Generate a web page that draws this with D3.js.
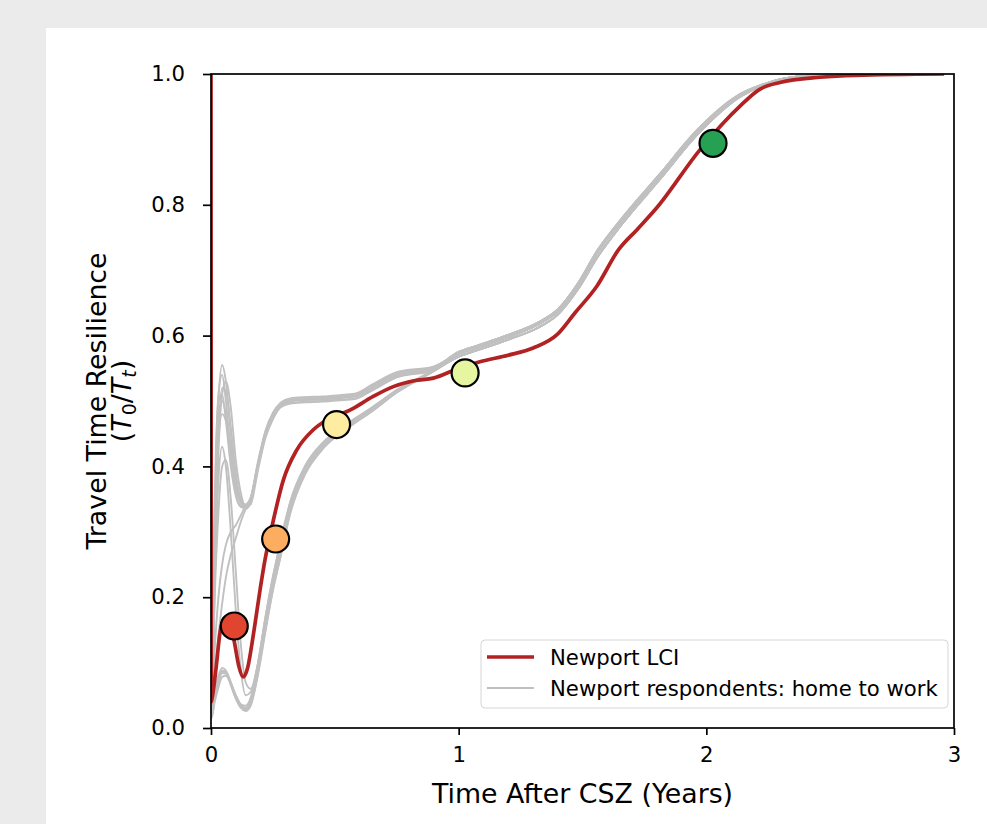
<!DOCTYPE html>
<html><head><meta charset="utf-8">
<script src="https://cdn.jsdelivr.net/npm/d3@7"></script>
<style>
body{margin:0;background:#ebebeb;}
svg text{font-family:"DejaVu Sans",sans-serif;fill:#000;}
</style>
</head><body>
<svg id="c" width="987" height="824"></svg>
<script>
// ---------------- data ----------------
const xTicks = [0, 1, 2, 3];
const yTicks = [0.0, 0.2, 0.4, 0.6, 0.8, 1.0];
const xTickLabels = ["0", "1", "2", "3"];
const yTickLabels = ["0.0", "0.2", "0.4", "0.6", "0.8", "1.0"];

// Newport LCI
const redX = [0, 0.001, 0.003, 0.02, 0.036, 0.055, 0.075, 0.095, 0.112, 0.13, 0.148, 0.165, 0.178, 0.198, 0.218, 0.252, 0.292, 0.346, 0.413, 0.467, 0.561, 0.655, 0.736, 0.82, 0.898, 1.0, 1.086, 1.2, 1.301, 1.396, 1.47, 1.557, 1.645, 1.72, 1.799, 1.974, 2.136, 2.217, 2.297, 2.459, 2.6, 2.96];
const redY = [1.0, 0.04, 0.043, 0.09, 0.145, 0.168, 0.165, 0.13, 0.095, 0.078, 0.092, 0.128, 0.16, 0.211, 0.257, 0.318, 0.379, 0.425, 0.456, 0.471, 0.486, 0.507, 0.522, 0.531, 0.535, 0.55, 0.56, 0.57, 0.581, 0.601, 0.635, 0.675, 0.731, 0.762, 0.795, 0.884, 0.951, 0.977, 0.987, 0.995, 0.998, 1.0];

// respondents: early part (shared x grid) + late part (shared x grid)
const grayEarlyX = [0, 0.003, 0.015, 0.03, 0.045, 0.06, 0.08, 0.1, 0.12, 0.14, 0.16, 0.19, 0.22, 0.25, 0.28, 0.32, 0.38, 0.45, 0.52, 0.58, 0.65, 0.75, 0.9];
const grayTailX = [1.0, 1.07, 1.2, 1.32, 1.4, 1.48, 1.56, 1.65, 1.81, 1.97, 2.14, 2.22, 2.3, 2.45, 2.96];

const grayU1 = [1, 0.05, 0.30, 0.50, 0.555, 0.53, 0.45, 0.38, 0.345, 0.335, 0.345, 0.40, 0.45, 0.478, 0.494, 0.500, 0.502, 0.503, 0.505, 0.507, 0.520, 0.540, 0.550];
const grayU2 = [1, 0.05, 0.32, 0.51, 0.54, 0.50, 0.42, 0.36, 0.34, 0.338, 0.35, 0.405, 0.452, 0.48, 0.496, 0.503, 0.505, 0.506, 0.508, 0.510, 0.524, 0.543, 0.552];
const grayU3 = [1, 0.04, 0.25, 0.45, 0.52, 0.515, 0.46, 0.39, 0.35, 0.34, 0.348, 0.40, 0.446, 0.474, 0.491, 0.497, 0.499, 0.500, 0.502, 0.504, 0.517, 0.537, 0.548];
const grayU4 = [1, 0.05, 0.28, 0.47, 0.50, 0.48, 0.42, 0.37, 0.345, 0.34, 0.352, 0.408, 0.455, 0.482, 0.497, 0.504, 0.506, 0.507, 0.509, 0.511, 0.525, 0.544, 0.553];
const grayU5 = [1, 0.04, 0.22, 0.42, 0.51, 0.53, 0.49, 0.41, 0.36, 0.338, 0.342, 0.395, 0.444, 0.472, 0.490, 0.496, 0.498, 0.499, 0.501, 0.503, 0.516, 0.536, 0.547];
const grayU6 = [1, 0.05, 0.27, 0.44, 0.48, 0.47, 0.43, 0.38, 0.35, 0.342, 0.35, 0.402, 0.45, 0.478, 0.494, 0.500, 0.502, 0.503, 0.505, 0.507, 0.520, 0.540, 0.550];
const grayU7 = [1, 0.06, 0.35, 0.50, 0.51, 0.47, 0.40, 0.355, 0.338, 0.336, 0.346, 0.40, 0.449, 0.477, 0.493, 0.500, 0.502, 0.503, 0.505, 0.507, 0.520, 0.540, 0.550];
const grayS1 = [1, 0.02, 0.08, 0.14, 0.19, 0.23, 0.265, 0.29, 0.315, 0.335, 0.35, 0.40, 0.448, 0.476, 0.493, 0.500, 0.502, 0.503, 0.505, 0.507, 0.520, 0.540, 0.550];
const grayS2 = [1, 0.03, 0.12, 0.20, 0.25, 0.28, 0.30, 0.31, 0.325, 0.34, 0.352, 0.405, 0.452, 0.48, 0.495, 0.501, 0.503, 0.504, 0.506, 0.508, 0.522, 0.541, 0.551];
const grayI1 = [1, 0.04, 0.22, 0.38, 0.43, 0.40, 0.30, 0.18, 0.09, 0.05, 0.055, 0.10, 0.17, 0.23, 0.285, 0.345, 0.398, 0.433, 0.458, 0.472, 0.490, 0.516, 0.546];
const grayI2 = [1, 0.04, 0.20, 0.33, 0.40, 0.41, 0.35, 0.24, 0.13, 0.07, 0.06, 0.098, 0.166, 0.227, 0.276, 0.342, 0.398, 0.433, 0.456, 0.471, 0.488, 0.515, 0.546];
const grayL1 = [1, 0.02, 0.05, 0.075, 0.088, 0.085, 0.066, 0.046, 0.034, 0.031, 0.042, 0.095, 0.163, 0.224, 0.272, 0.34, 0.397, 0.433, 0.455, 0.47, 0.487, 0.515, 0.547];
const grayL2 = [1, 0.015, 0.045, 0.07, 0.084, 0.083, 0.066, 0.045, 0.031, 0.026, 0.034, 0.082, 0.148, 0.21, 0.26, 0.328, 0.388, 0.426, 0.45, 0.466, 0.484, 0.513, 0.546];
const grayL3 = [1, 0.025, 0.055, 0.08, 0.092, 0.088, 0.068, 0.048, 0.036, 0.034, 0.046, 0.10, 0.17, 0.232, 0.28, 0.346, 0.401, 0.436, 0.458, 0.473, 0.49, 0.517, 0.548];
const grayL4 = [1, 0.02, 0.048, 0.072, 0.086, 0.086, 0.07, 0.05, 0.036, 0.03, 0.038, 0.088, 0.155, 0.217, 0.266, 0.334, 0.392, 0.43, 0.452, 0.468, 0.486, 0.514, 0.546];
const grayL5 = [1, 0.018, 0.04, 0.062, 0.078, 0.08, 0.068, 0.05, 0.035, 0.028, 0.036, 0.085, 0.15, 0.212, 0.262, 0.33, 0.39, 0.428, 0.451, 0.467, 0.485, 0.513, 0.546];

const grayT1 = [0.572, 0.581, 0.598, 0.617, 0.637, 0.676, 0.727, 0.772, 0.843, 0.914, 0.968, 0.982, 0.992, 0.998, 1.0];
const grayT2 = [0.568, 0.577, 0.594, 0.612, 0.632, 0.670, 0.720, 0.766, 0.838, 0.910, 0.966, 0.981, 0.991, 0.998, 1.0];
const grayT3 = [0.575, 0.584, 0.601, 0.620, 0.640, 0.679, 0.730, 0.775, 0.846, 0.917, 0.970, 0.983, 0.992, 0.998, 1.0];

const grayLines = [
  [grayU1, grayT1], [grayU2, grayT3], [grayU3, grayT2], [grayU4, grayT1], [grayU5, grayT3],
  [grayU6, grayT2], [grayU7, grayT1], [grayS1, grayT2], [grayS2, grayT3], [grayI1, grayT1],
  [grayI2, grayT2], [grayL1, grayT1], [grayL2, grayT2], [grayL3, grayT3], [grayL4, grayT1], [grayL5, grayT2]
];

// milestone markers
const dotX = [0.094, 0.261, 0.507, 1.026, 2.027];
const dotY = [0.156, 0.289, 0.464, 0.543, 0.894];
const dotColors = ["#e2452f", "#fdad60", "#feeca0", "#e6f5a0", "#26a153"];

const legendLabels = ["Newport LCI", "Newport respondents: home to work"];

// ---------------- drawing ----------------
const svg = d3.select("#c");
svg.append("rect").attr("x", 46).attr("y", 28).attr("width", 941).attr("height", 796).attr("fill", "#fff");

const L = 211, R = 954, T = 74, B = 728;
const x = d3.scaleLinear().domain([0, 3]).range([L, R]);
const y = d3.scaleLinear().domain([0, 1]).range([B, T]);

svg.append("defs").append("clipPath").attr("id", "clip")
  .append("rect").attr("x", L).attr("y", T).attr("width", R - L).attr("height", B - T);

const plot = svg.append("g").attr("clip-path", "url(#clip)");
const line = d3.line().x(d => x(d[0])).y(d => y(d[1])).curve(d3.curveMonotoneX);

grayLines.forEach(([early, tail]) => {
  const pts = grayEarlyX.map((v, i) => [v, early[i]]).concat(grayTailX.map((v, i) => [v, tail[i]]));
  plot.append("path").attr("d", line(pts)).attr("fill", "none")
    .attr("stroke", "#c0c0c0").attr("stroke-width", 1.9).attr("stroke-linejoin", "round");
});

plot.append("path").attr("d", line(redX.map((v, i) => [v, redY[i]])))
  .attr("fill", "none").attr("stroke", "#b22222").attr("stroke-width", 3.7).attr("stroke-linejoin", "round");

// axes
const xAxis = d3.axisBottom(x).tickValues(xTicks).tickFormat((d, i) => xTickLabels[i]).tickSizeOuter(0).tickSize(7).tickPadding(12);
const yAxis = d3.axisLeft(y).tickValues(yTicks).tickFormat((d, i) => yTickLabels[i]).tickSizeOuter(0).tickSize(8).tickPadding(18);
const gx = svg.append("g").attr("transform", `translate(0,${B})`).call(xAxis);
const gy = svg.append("g").attr("transform", `translate(${L},0)`).call(yAxis);
[gx, gy].forEach(g => {
  g.select(".domain").remove();
  g.selectAll(".tick line").attr("stroke", "#000").attr("stroke-width", 1.7);
  g.selectAll(".tick text").attr("font-size", 21.2).attr("font-family", "DejaVu Sans").attr("fill", "#000");
});

// frame (spines)
svg.append("rect").attr("x", L).attr("y", T).attr("width", R - L).attr("height", B - T)
  .attr("fill", "none").attr("stroke", "#000").attr("stroke-width", 1.7);

// dots
svg.append("g").selectAll("circle").data(dotX).join("circle")
  .attr("cx", (d) => x(d)).attr("cy", (d, i) => y(dotY[i])).attr("r", 13.5)
  .attr("fill", (d, i) => dotColors[i]).attr("stroke", "#000").attr("stroke-width", 2.2);

// labels
svg.append("text").attr("x", (L + R) / 2).attr("y", 803).attr("text-anchor", "middle")
  .attr("font-size", 26.8).text("Time After CSZ (Years)");

const yl = svg.append("g").attr("transform", `translate(0,${(T + B) / 2}) rotate(-90)`);
yl.append("text").attr("x", 0).attr("y", 106).attr("text-anchor", "middle").attr("font-size", 26.8).text("Travel Time Resilience");
const t2 = yl.append("text").attr("x", 0).attr("y", 131).attr("text-anchor", "middle").attr("font-size", 26.8);
t2.append("tspan").text("(");
t2.append("tspan").attr("font-style", "italic").text("T");
t2.append("tspan").attr("font-size", 19).attr("dy", 5).text("0");
t2.append("tspan").attr("dy", -5).text("/");
t2.append("tspan").attr("font-style", "italic").text("T");
t2.append("tspan").attr("font-size", 19).attr("font-style", "italic").attr("dy", 5).text("t");
t2.append("tspan").attr("dy", -5).text(")");

// legend
const lg = svg.append("g");
lg.append("rect").attr("x", 481).attr("y", 640).attr("width", 467).attr("height", 68).attr("rx", 4)
  .attr("fill", "#fff").attr("fill-opacity", 0.8).attr("stroke", "#d6d6d6").attr("stroke-width", 1);
const legStroke = ["#b22222", "#c0c0c0"], legW = [3.7, 1.9], legY = [657, 688];
legendLabels.forEach((lab, i) => {
  lg.append("line").attr("x1", 487).attr("x2", 534).attr("y1", legY[i]).attr("y2", legY[i])
    .attr("stroke", legStroke[i]).attr("stroke-width", legW[i]);
  lg.append("text").attr("x", 550).attr("y", legY[i] + 7.5).attr("font-size", 21.2).text(lab);
});
</script>
</body></html>
